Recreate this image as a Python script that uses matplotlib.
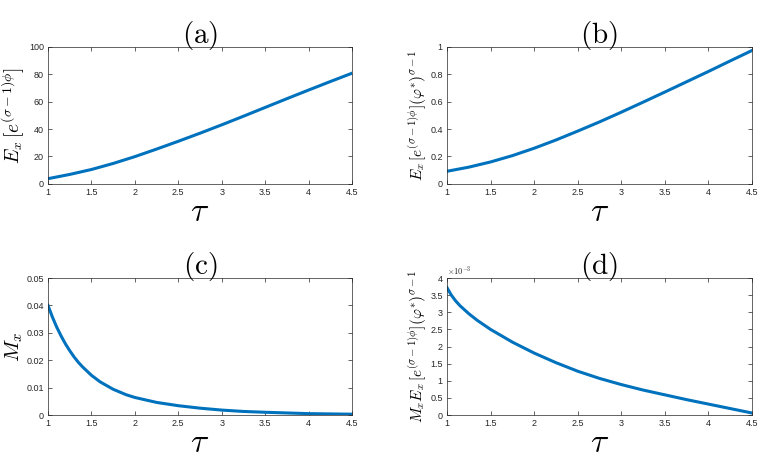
import matplotlib
matplotlib.use('Agg')
from matplotlib import pyplot as plt
from matplotlib.ticker import FuncFormatter, MultipleLocator

plt.rcParams['mathtext.fontset'] = 'cm'
plt.rcParams['font.family'] = ['Liberation Sans', 'DejaVu Sans']

# values
tau_a = [1.0, 1.25, 1.5, 1.75, 2.0, 2.25, 2.5, 2.75, 3.0, 3.25, 3.5, 3.75, 4.0, 4.25, 4.5]
ex_a = [3.8, 6.9, 10.5, 14.9, 19.9, 25.4, 31.1, 37.0, 43.1, 49.4, 55.8, 62.2, 68.5, 74.7, 80.8]

tau_b = tau_a
ex_b = [0.092, 0.122, 0.160, 0.206, 0.260, 0.320, 0.385, 0.452, 0.523, 0.596, 0.670, 0.745, 0.820, 0.897, 0.973]

tau_c = [1.0, 1.05, 1.1, 1.15, 1.2, 1.25, 1.3, 1.35, 1.4, 1.5, 1.6, 1.75, 1.9, 2.0, 2.25,
         2.5, 2.75, 3.0, 3.25, 3.5, 4.0, 4.5]
mx_c = [0.0400, 0.0358, 0.0321, 0.0289, 0.0260, 0.0235, 0.0212, 0.0192, 0.0175, 0.0145,
        0.0121, 0.0094, 0.0074, 0.0064, 0.0046, 0.0034, 0.0025, 0.0018, 0.0013, 0.0010,
        0.0005, 0.0003]

tau_d = [1.0, 1.05, 1.1, 1.15, 1.25, 1.35, 1.5, 1.75, 2.0, 2.25, 2.5, 2.75, 3.0, 3.25, 3.5,
         3.75, 4.0, 4.25, 4.5]
mx_d = [3.72e-3, 3.50e-3, 3.33e-3, 3.19e-3, 2.96e-3, 2.76e-3, 2.50e-3, 2.13e-3, 1.81e-3,
        1.53e-3, 1.28e-3, 1.07e-3, 0.89e-3, 0.73e-3, 0.59e-3, 0.45e-3, 0.32e-3, 0.19e-3,
        0.06e-3]

xticks = [1, 1.5, 2, 2.5, 3, 3.5, 4, 4.5]

panels = [
    ('(a)', tau_a, ex_a, (0, 100), 20, r'$E_x\,[e^{(\sigma-1)\phi}]$', 14, 1.0),
    ('(b)', tau_b, ex_b, (0, 1), 0.2, r'$E_x\,[e^{(\sigma-1)\phi}](\varphi^{*})^{\sigma-1}$', 11, 1.0),
    ('(c)', tau_c, mx_c, (0, 0.05), 0.01, r'$M_x$', 15, 1.0),
    ('(d)', tau_d, mx_d, (0, 4e-3), 0.5e-3, r'$M_x E_x\,[e^{(\sigma-1)\phi}](\varphi^{*})^{\sigma-1}$', 11, 1e3),
]

rects = [
    [0.063, 0.602, 0.399, 0.2965],
    [0.5866, 0.602, 0.400, 0.2965],
    [0.063, 0.1017, 0.399, 0.2965],
    [0.5866, 0.1017, 0.400, 0.2965],
]

fig = plt.figure(figsize=(7.62, 4.62), dpi=100)
edge = '#262626'

for rect, (title, x, y, ylim, ystep, ylab, ysize, scale) in zip(rects, panels):
    ax = fig.add_axes(rect)
    ax.plot(x, y, color='#0072BD', linewidth=2.2)
    ax.set_xlim(1, 4.5)
    ax.set_ylim(*ylim)
    ax.set_xticks(xticks)
    ax.yaxis.set_major_locator(MultipleLocator(ystep))
    ax.xaxis.set_major_formatter(FuncFormatter(lambda v, p: '%g' % v))
    ax.yaxis.set_major_formatter(FuncFormatter(lambda v, p, s=scale: '%g' % round(v * s, 6)))
    ax.tick_params(direction='in', length=3, width=0.5, labelsize=6.5,
                   colors=edge, top=True, right=True, pad=3)
    for sp in ax.spines.values():
        sp.set_linewidth(0.5)
        sp.set_color(edge)
    ax.set_title(r'$\mathrm{' + title + '}$', fontsize=21, pad=3)
    ax.set_xlabel(r'$\tau$', fontsize=24, labelpad=0)
    ax.set_ylabel(ylab, fontsize=ysize, labelpad=1)
    if scale != 1.0:
        ax.text(0.0, 1.01, r'$\times10^{-3}$', transform=ax.transAxes,
                fontsize=6, color=edge, ha='left', va='bottom')

fig.savefig('out.png', dpi=100)
